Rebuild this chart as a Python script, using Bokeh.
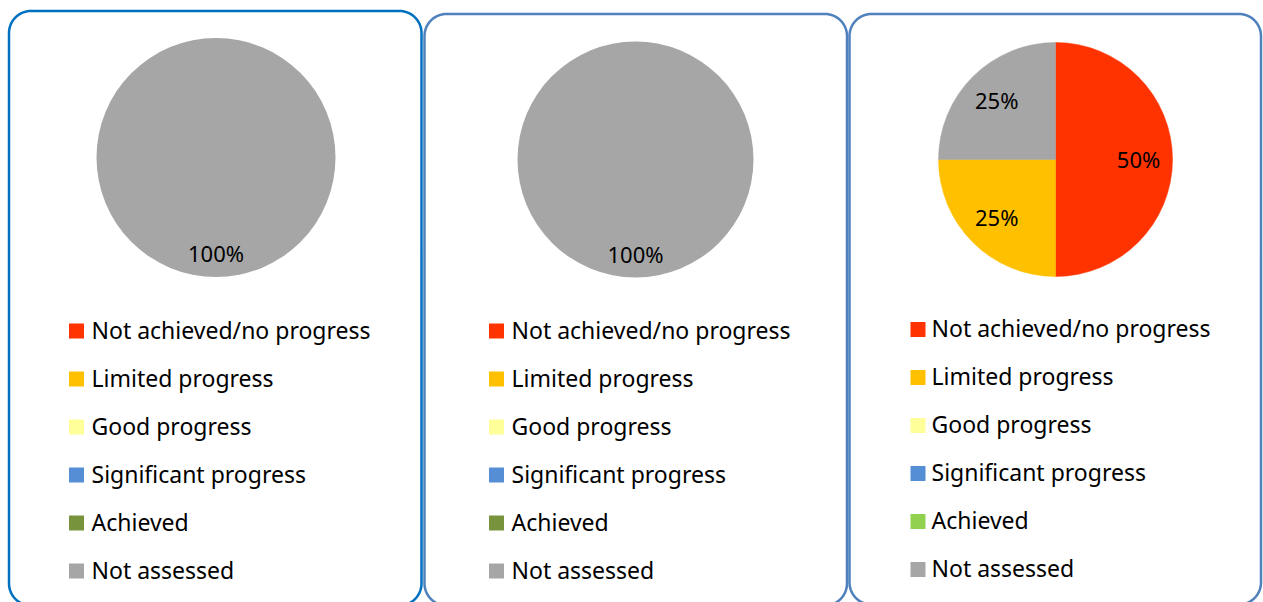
import numpy as np
from bokeh.plotting import figure
from bokeh.models import Range1d
from bokeh.core.properties import value
from bokeh.embed import file_html
from bokeh.resources import INLINE

# ---------------- data ----------------
categories = ["Not achieved/no progress", "Limited progress", "Good progress",
              "Significant progress", "Achieved", "Not assessed"]
panel1_values = [0, 0, 0, 0, 0, 100]
panel2_values = [0, 0, 0, 0, 0, 100]
panel3_values = [50, 25, 0, 0, 0, 25]

colors_a = ["#FF3300", "#FFC000", "#FFFF99", "#558ED5", "#77933C", "#A6A6A6"]
colors_b = ["#FF3300", "#FFC000", "#FFFF99", "#558ED5", "#92D050", "#A6A6A6"]

W, H = 1263, 602
FONT = "Noto Sans"
TXT_SHIFT = 9  # empirical correction of the text baseline (px, upwards)

p = figure(width=W, height=H, output_backend="svg", toolbar_location=None,
           x_range=Range1d(0, W), y_range=Range1d(0, H),
           min_border=0, outline_line_color=None)
p.axis.visible = False
p.grid.visible = False
p.background_fill_color = "white"
p.border_fill_color = "white"


def Y(sy):
    # screen pixel row -> data y
    return H - sy


def rounded_rect(l, t, r, b, rad):
    xs, ys = [], []
    corners = [
        (r - rad, t + rad, np.linspace(np.pi / 2, 0, 20)),        # top-right
        (r - rad, b - rad, np.linspace(0, -np.pi / 2, 20)),       # bottom-right
        (l + rad, b - rad, np.linspace(-np.pi / 2, -np.pi, 20)),  # bottom-left
        (l + rad, t + rad, np.linspace(np.pi, np.pi / 2, 20)),    # top-left
    ]
    for cx, cy, ang in corners:
        xs.extend(cx + rad * np.cos(ang))
        ys.extend(cy - rad * np.sin(ang))
    xs.append(xs[0]); ys.append(ys[0])
    return xs, [Y(v) for v in ys]


panels = [
    dict(box=(8.5, 10.5, 421, 605), border="#0070C0", values=panel1_values,
         colors=colors_a, center=(215.5, 157), radius=119.5,
         sq_x=76, txt_x=91, base0=338),
    dict(box=(424, 13.5, 846.5, 605), border="#4F81BD", values=panel2_values,
         colors=colors_a, center=(635, 159), radius=118,
         sq_x=496, txt_x=511, base0=338),
    dict(box=(849, 13.5, 1260.5, 604), border="#4F81BD", values=panel3_values,
         colors=colors_b, center=(1055, 159), radius=117,
         sq_x=917.5, txt_x=931, base0=336.5),
]

for pn in panels:
    l, t, r, b = pn["box"]
    xs, ys = rounded_rect(l, t, r, b, 22)
    p.line(xs, ys, line_color=pn["border"], line_width=2.5)

    vals = np.array(pn["values"], dtype=float)
    frac = vals / vals.sum()
    cum = np.concatenate([[0], np.cumsum(frac)])
    cx, cy = pn["center"]
    rad = pn["radius"]
    for i, f in enumerate(frac):
        if f <= 0:
            continue
        a0 = np.pi / 2 - 2 * np.pi * cum[i]
        span = 2 * np.pi * f
        a1 = a0 - span
        if f >= 1:
            p.circle(x=[cx], y=[Y(cy)], radius=rad, fill_color=pn["colors"][i],
                     line_color=None)
        else:
            p.wedge(x=cx, y=Y(cy), radius=rad, start_angle=a0, end_angle=a1,
                    direction="clock", fill_color=pn["colors"][i],
                    line_color=pn["colors"][i], line_width=0.5)
        mid = a0 - span / 2
        k = 0.81 if f >= 1 else 0.71
        lx = cx + k * rad * np.cos(mid)
        ly = Y(cy) + k * rad * np.sin(mid)
        p.text(x=[lx], y=[ly - 8 + TXT_SHIFT], text=[f"{round(f * 100)}%"],
               text_align="center", text_baseline="alphabetic",
               text_font=value(FONT), text_font_size="22px", text_color="black")

    # legend
    for i, cat in enumerate(categories):
        base = pn["base0"] + 48 * i
        p.rect(x=pn["sq_x"], y=Y(base - 7.5), width=15, height=15,
               fill_color=pn["colors"][i], line_color=None)
        p.text(x=[pn["txt_x"]], y=[Y(base) + TXT_SHIFT], text=[cat],
               text_align="left", text_baseline="alphabetic",
               text_font=value(FONT), text_font_size="23px", text_color="black")

open("out.html", "w").write(file_html(p, INLINE))
